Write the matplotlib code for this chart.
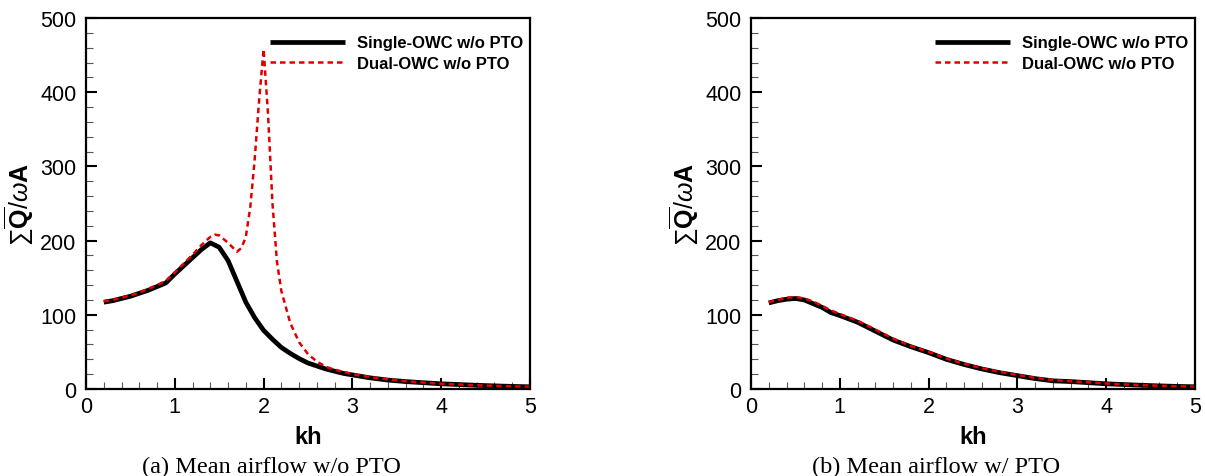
import matplotlib
matplotlib.use("Agg")
import matplotlib.pyplot as plt
from matplotlib.ticker import MultipleLocator

plt.rcParams['font.family'] = ['Liberation Sans', 'DejaVu Sans']
plt.rcParams['mathtext.fontset'] = 'custom'
plt.rcParams['mathtext.rm'] = 'Liberation Sans'
plt.rcParams['mathtext.bf'] = 'Liberation Sans:bold'
plt.rcParams['mathtext.it'] = 'Liberation Sans:italic'

# ---- data: panel (a) w/o PTO ----
kh_a_single = [0.2, 0.3, 0.4, 0.5, 0.6, 0.7, 0.8, 0.9, 1.0, 1.1, 1.2, 1.3, 1.4, 1.5, 1.6, 1.7,
               1.8, 1.9, 2.0, 2.1, 2.2, 2.3, 2.4, 2.5, 2.6, 2.7, 2.8, 2.9, 3.0, 3.2, 3.4, 3.6,
               3.8, 4.0, 4.2, 4.4, 4.6, 4.8, 5.0]
q_a_single = [117, 119, 122, 125, 129, 133, 138, 143, 155, 166, 177, 188, 197, 191, 173, 145,
              117, 96, 79, 67, 56, 48, 41, 35, 31, 27, 24, 21, 19, 15, 12, 10,
              8.5, 7, 6, 5, 4.2, 3.5, 3]
kh_a_dual = [0.2, 0.3, 0.4, 0.5, 0.6, 0.7, 0.8, 0.9, 1.0, 1.1, 1.2, 1.3, 1.4, 1.45, 1.5, 1.6,
             1.7, 1.75, 1.8, 1.85, 1.9, 1.95, 2.0, 2.05, 2.1, 2.15, 2.2, 2.3, 2.4, 2.5, 2.6,
             2.7, 2.8, 2.9, 3.0, 3.2, 3.4, 3.6, 3.8, 4.0, 4.2, 4.4, 4.6, 4.8, 5.0]
q_a_dual = [118, 120, 123, 126, 130, 135, 140, 146, 157, 169, 181, 194, 205, 208, 207, 197,
            185, 190, 205, 245, 310, 390, 458, 370, 250, 172, 132, 89, 63, 47, 37,
            30, 26, 23, 20, 16, 13, 10.5, 8.7, 7.2, 6, 5, 4.3, 3.6, 3]

# ---- data: panel (b) w/ PTO ----
kh_b = [0.2, 0.3, 0.4, 0.5, 0.6, 0.7, 0.8, 0.9, 1.0, 1.2, 1.4, 1.6, 1.8, 2.0, 2.2, 2.4,
        2.6, 2.8, 3.0, 3.2, 3.4, 3.6, 3.8, 4.0, 4.2, 4.4, 4.6, 4.8, 5.0]
q_b_single = [116, 119, 121, 122, 120, 115, 110, 103, 99, 90, 78, 66, 57, 49, 40, 33,
              27, 22, 18, 14, 11, 10, 8.5, 7, 6, 5, 4.2, 3.5, 3]
q_b_dual = [117, 120, 123, 124, 122, 118, 112, 106, 101, 92, 80, 68, 58, 50, 41, 34,
            28, 23, 19, 15, 12, 10.5, 9, 7.5, 6.2, 5.2, 4.4, 3.7, 3.2]

legend_labels = ["Single-OWC w/o PTO", "Dual-OWC w/o PTO"]
captions = ["(a) Mean airflow w/o PTO", "(b) Mean airflow w/ PTO"]
ylabel = r'$\sum\overline{\mathbf{Q}}/\omega\mathbf{A}$'

fig = plt.figure(figsize=(12.05, 4.77), dpi=100)
W, H = 1205, 477
axes = []
for left in (86, 751):
    ax = fig.add_axes([left / W, (H - 390) / H, 444 / W, 371 / H])
    axes.append(ax)

panels = [(kh_a_single, q_a_single, kh_a_dual, q_a_dual),
          (kh_b, q_b_single, kh_b, q_b_dual)]

for i, (ax, (xs, ys, xd, yd)) in enumerate(zip(axes, panels)):
    ax.plot(xs, ys, color='black', lw=3.4, solid_capstyle='butt', label=legend_labels[0])
    ax.plot(xd, yd, color='#e00000', lw=1.8, dashes=(2.2, 1.6), label=legend_labels[1])
    ax.set_xlim(0, 5)
    ax.set_ylim(0, 500)
    ax.xaxis.set_major_locator(MultipleLocator(1))
    ax.xaxis.set_minor_locator(MultipleLocator(0.2))
    ax.yaxis.set_major_locator(MultipleLocator(100))
    ax.yaxis.set_minor_locator(MultipleLocator(20))
    ax.tick_params(which='both', direction='in', top=False, right=False)
    ax.tick_params(which='major', length=8, width=1.5, labelsize=15.5)
    ax.tick_params(axis='y', which='major', pad=7)
    ax.tick_params(axis='x', which='major', pad=5)
    ax.tick_params(which='minor', length=5, width=0.8, color='#555555')
    for sp in ax.spines.values():
        sp.set_linewidth(1.6)
    ax.set_xlabel('kh', fontsize=17, fontweight='bold', labelpad=6)
    ax.set_ylabel(ylabel, fontsize=18, labelpad=3)
    leg = ax.legend(loc='upper left', bbox_to_anchor=(0.414, 0.953), frameon=False,
                    fontsize=12, handlelength=4.5, handletextpad=0.72, borderpad=0,
                    borderaxespad=0, labelspacing=0.33)
    for t in leg.get_texts():
        t.set_fontweight('bold')

fig.text(271 / W, 4 / H, captions[0], ha='center', va='baseline', fontsize=17.5,
         family='Liberation Serif')
fig.text(936 / W, 4 / H, captions[1], ha='center', va='baseline', fontsize=17.5,
         family='Liberation Serif')

fig.savefig('out.png', dpi=100)
